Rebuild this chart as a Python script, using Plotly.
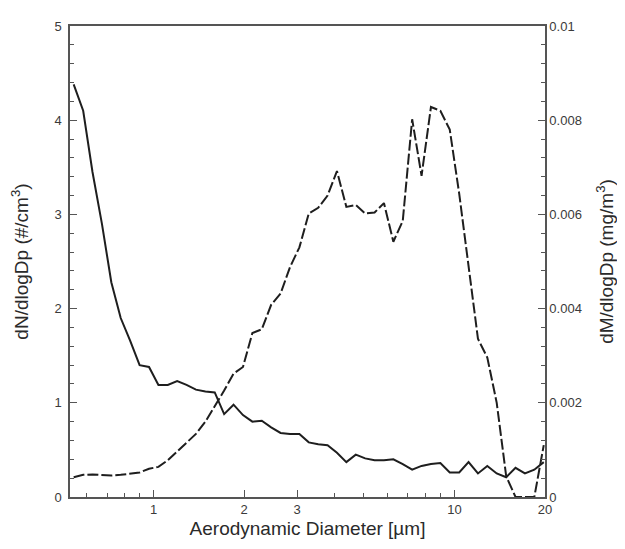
import math
import plotly.graph_objects as go

# Aerodynamic diameter channels (µm)
diameter = [0.542, 0.583, 0.626, 0.673, 0.723, 0.777, 0.835, 0.898, 0.965, 1.037,
            1.114, 1.197, 1.286, 1.382, 1.486, 1.596, 1.715, 1.843, 1.981, 2.129,
            2.288, 2.458, 2.642, 2.839, 3.051, 3.278, 3.523, 3.786, 4.068, 4.371,
            4.698, 5.048, 5.425, 5.829, 6.264, 6.732, 7.234, 7.774, 8.354, 8.977,
            9.647, 10.37, 11.14, 11.97, 12.86, 13.82, 14.86, 15.96, 17.15, 18.43,
            19.81]

# dN/dlogDp (#/cm3) - solid line, left axis
number_conc = [4.38, 4.10, 3.45, 2.90, 2.28, 1.90, 1.66, 1.40, 1.38, 1.19,
               1.19, 1.23, 1.19, 1.14, 1.12, 1.11, 0.88, 0.98, 0.87, 0.80,
               0.81, 0.74, 0.68, 0.67, 0.67, 0.58, 0.56, 0.55, 0.47, 0.37,
               0.45, 0.41, 0.39, 0.39, 0.40, 0.35, 0.29, 0.33, 0.35, 0.36,
               0.26, 0.26, 0.37, 0.25, 0.33, 0.25, 0.21, 0.31, 0.25, 0.29,
               0.37]

# dM/dlogDp (mg/m3) - dashed line, right axis
mass_conc = [0.00042, 0.00047, 0.00048, 0.00046, 0.000454, 0.00047, 0.0005, 0.00052, 0.0006, 0.00064,
             0.00078, 0.00096, 0.00114, 0.00134, 0.0016, 0.00192, 0.00226, 0.00262, 0.00276, 0.00348,
             0.00356, 0.00408, 0.00432, 0.00488, 0.0053, 0.00602, 0.00614, 0.0064, 0.00692, 0.00616,
             0.0062, 0.00602, 0.00604, 0.00624, 0.00542, 0.00586, 0.00802, 0.00682, 0.00828, 0.0082,
             0.0078, 0.00644, 0.00484, 0.00336, 0.00296, 0.002, 0.00044, 0.0, 0.0, 0.0,
             0.0011]

left_ticks = [0, 1, 2, 3, 4, 5]
right_ticks = [0, 0.002, 0.004, 0.006, 0.008, 0.01]
right_labels = ["0", "0.002", "0.004", "0.006", "0.008", "0.01"]
x_ticks = [1, 2, 3, 10, 20]
x_minor = [0.6, 0.7, 0.8, 0.9, 4, 5, 6, 7, 8, 9]

axis_col = "#555555"
line_col = "#1e1e1e"
font_fam = "Liberation Sans, Arial, sans-serif"
tick_font = dict(size=13, color="#3a3a3a")
title_font = dict(size=19, color="#2a2a2a")

fig = go.Figure()
fig.add_trace(go.Scatter(x=diameter, y=number_conc, mode="lines",
                         line=dict(color=line_col, width=2), yaxis="y", showlegend=False))
fig.add_trace(go.Scatter(x=diameter, y=mass_conc, mode="lines",
                         line=dict(color=line_col, width=2, dash="11px,3px"), yaxis="y2", showlegend=False))

fig.update_layout(
    width=617, height=541,
    margin=dict(l=62, r=78, t=11, b=52),
    paper_bgcolor="white", plot_bgcolor="white",
    font=dict(family=font_fam, color="#333333", size=13),
    xaxis=dict(type="log", range=[math.log10(0.527), math.log10(20)],
               tickvals=x_ticks, ticktext=[str(v) for v in x_ticks],
               ticks="inside", ticklen=7, tickwidth=1.2, tickcolor=axis_col,
               showline=True, linecolor=axis_col, linewidth=1.5, mirror=True,
               showgrid=False, zeroline=False,
               minor=dict(tickvals=x_minor, ticks="inside", ticklen=4, tickcolor=axis_col, tickwidth=1.2),
               tickfont=tick_font,
               title=dict(text="Aerodynamic Diameter [\u00b5m]", font=title_font, standoff=5)),
    yaxis=dict(range=[0, 5], tickvals=left_ticks, ticks="inside", ticklen=7, tickwidth=1.2,
               tickcolor=axis_col, showline=True, linecolor=axis_col, linewidth=1.5,
               showgrid=False, zeroline=False, ticklabelstandoff=4,
               minor=dict(dtick=0.2, ticks="inside", ticklen=4, tickcolor=axis_col, tickwidth=1.2),
               tickfont=tick_font,
               title=dict(text="dN/dlogDp (#/cm<sup>3</sup>)", font=title_font, standoff=22)),
    yaxis2=dict(range=[0, 0.01], overlaying="y", side="right", tickvals=right_ticks, ticktext=right_labels,
                ticks="inside", ticklen=7, tickwidth=1.2, tickcolor=axis_col,
                showline=True, linecolor=axis_col, linewidth=1.5,
                showgrid=False, zeroline=False,
                minor=dict(dtick=0.0004, ticks="inside", ticklen=4, tickcolor=axis_col, tickwidth=1.2),
                tickfont=tick_font,
                title=dict(text="dM/dlogDp (mg/m<sup>3</sup>)", font=title_font, standoff=19)),
)

fig.write_html("out.html")
